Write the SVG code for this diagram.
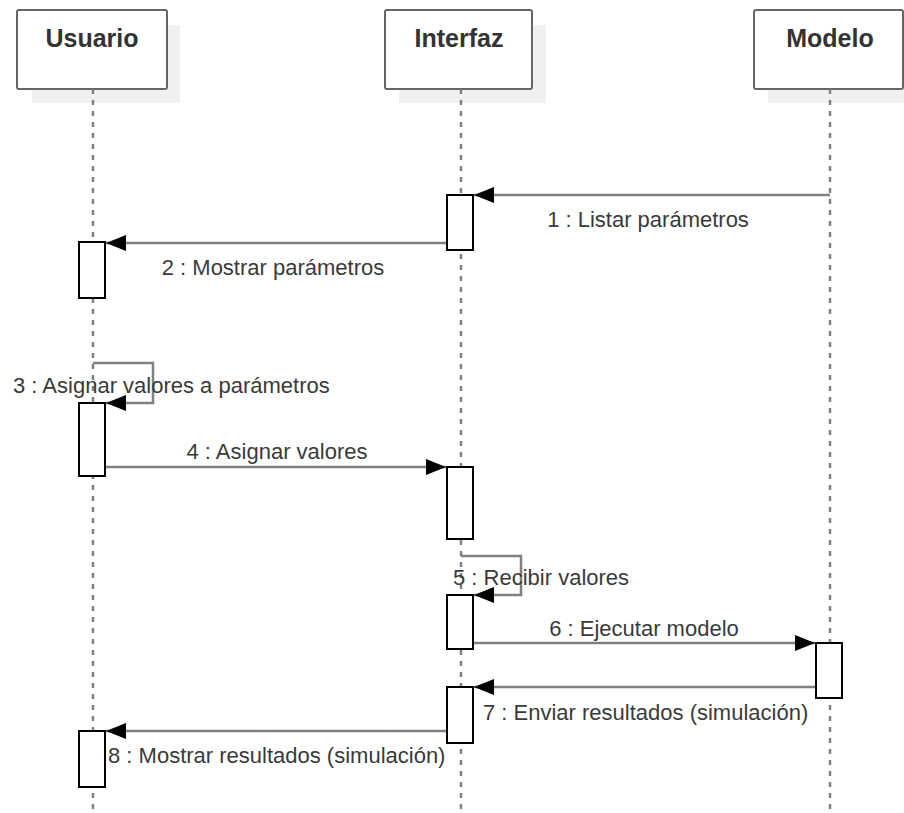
<svg xmlns="http://www.w3.org/2000/svg" width="904" height="813" viewBox="0 0 904 813">
<style>
.shadow{fill:#f0f0f0;stroke:none}
.head{fill:#ffffff;stroke:#666666;stroke-width:2}
.title{font-family:"Liberation Sans",Arial,sans-serif;font-size:25px;font-weight:bold;fill:#333333;text-anchor:middle}
.life{stroke:#808080;stroke-width:2.5;stroke-dasharray:5 6;fill:none}
.act{fill:#ffffff;stroke:#000000;stroke-width:2}
.msg{stroke:#808080;stroke-width:2.5;fill:none;marker-end:url(#arr)}
.lbl{font-family:"Liberation Sans",Arial,sans-serif;font-size:22px;fill:#3a3a3a}
.mid{text-anchor:middle}
</style>
<defs>
<marker id="arr" markerUnits="userSpaceOnUse" markerWidth="22" markerHeight="18" refX="21" refY="9" orient="auto">
<path d="M1,1 L21,9 L1,17 z" fill="#000000"/>
</marker>
</defs>
<g id="node-usuario">
<rect class="shadow" x="32" y="25" width="148" height="78"/>
<rect class="head" x="17" y="10" width="150" height="79" rx="2"/>
<text class="title" x="92" y="47">Usuario</text>
<line class="life" x1="93" y1="89" x2="93" y2="813"/>
</g>
<g id="node-interfaz">
<rect class="shadow" x="399" y="25" width="147" height="78"/>
<rect class="head" x="385" y="10" width="147" height="79" rx="2"/>
<text class="title" x="459" y="47">Interfaz</text>
<line class="life" x1="461" y1="89" x2="461" y2="813"/>
</g>
<g id="node-modelo">
<rect class="shadow" x="768" y="25" width="150" height="78"/>
<rect class="head" x="754" y="10" width="149" height="79" rx="2"/>
<text class="title" x="830" y="47">Modelo</text>
<line class="life" x1="830" y1="89" x2="830" y2="813"/>
</g>
<g id="connectors">
<line class="msg" x1="830" y1="195" x2="474" y2="195"/>
<line class="msg" x1="447" y1="243" x2="106" y2="243"/>
<polyline class="msg" points="93,363 153,363 153,403 106,403"/>
<line class="msg" x1="105" y1="467" x2="446" y2="467"/>
<polyline class="msg" points="461,556 521,556 521,595 474,595"/>
<line class="msg" x1="473" y1="643" x2="815" y2="643"/>
<line class="msg" x1="816" y1="687" x2="474" y2="687"/>
<line class="msg" x1="447" y1="731" x2="106" y2="731"/>
</g>
<g id="activations">
<rect class="act" x="79" y="242" width="26" height="56"/>
<rect class="act" x="79" y="403" width="26" height="73"/>
<rect class="act" x="79" y="731" width="26" height="56"/>
<rect class="act" x="447" y="195" width="26" height="55"/>
<rect class="act" x="447" y="467" width="26" height="72"/>
<rect class="act" x="447" y="595" width="26" height="54"/>
<rect class="act" x="447" y="687" width="26" height="56"/>
<rect class="act" x="816" y="643" width="26" height="55"/>
</g>
<g id="labels">
<text class="lbl mid" x="648" y="227">1 : Listar parámetros</text>
<text class="lbl mid" x="273" y="275">2 : Mostrar parámetros</text>
<text class="lbl" x="13" y="393">3 : Asignar valores a parámetros</text>
<text class="lbl mid" x="277" y="459">4 : Asignar valores</text>
<text class="lbl" x="453" y="585">5 : Recibir valores</text>
<text class="lbl mid" x="644" y="636">6 : Ejecutar modelo</text>
<text class="lbl" x="483" y="720">7 : Enviar resultados (simulación)</text>
<text class="lbl" x="108" y="763">8 : Mostrar resultados (simulación)</text>
</g>
</svg>
